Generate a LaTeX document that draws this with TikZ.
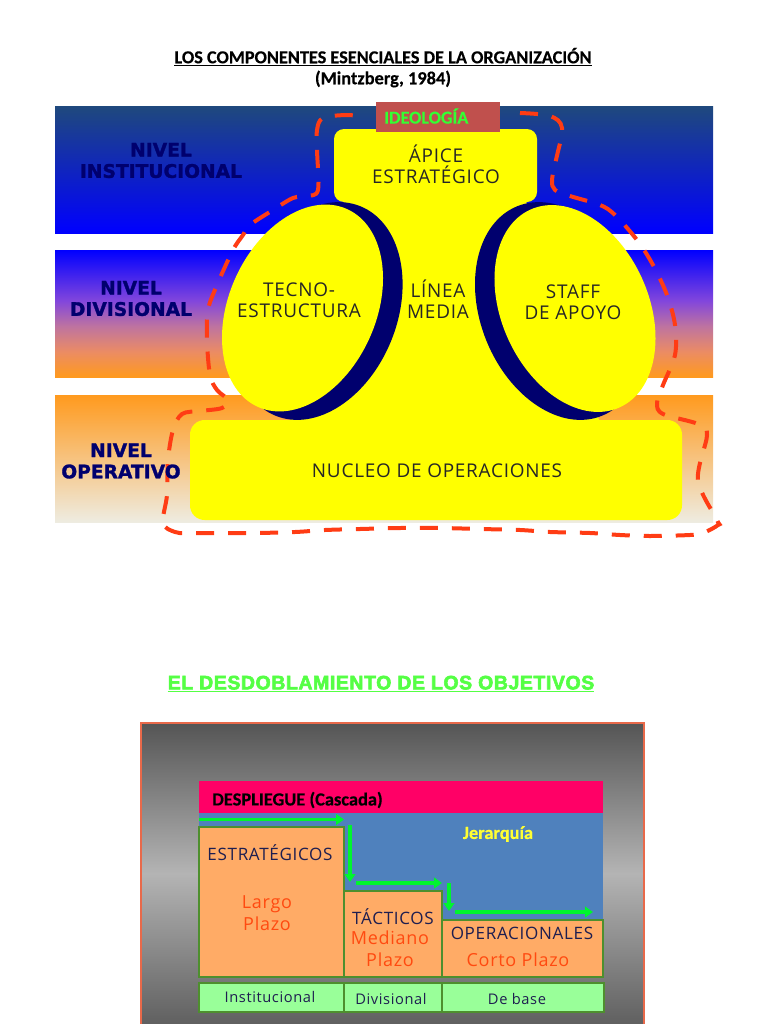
\documentclass[tikz,border=0pt]{standalone}
\usepackage{fontspec}
\usetikzlibrary{shapes.geometric,arrows.meta}
\setmainfont[BoldFeatures={FakeBold=0.4}]{Carlito}
\newfontfamily\lblfont[LetterSpace=4]{Open Sans}
\newfontfamily\nivfont[BoldFeatures={FakeBold=1.5}]{DejaVu Sans}
\newfontfamily\headfont[BoldFeatures={FakeBold=3},LetterSpace=3]{Liberation Sans}
\definecolor{yell}{HTML}{FFFF00}
\definecolor{navy}{HTML}{00006E}
\definecolor{redd}{HTML}{FF3C14}
\definecolor{dblue}{HTML}{1F497D}
\definecolor{pureblue}{HTML}{0000FF}
\definecolor{orng}{HTML}{FF9A1E}
\definecolor{pa}{HTML}{8246DC}
\definecolor{pb}{HTML}{BE73A0}
\definecolor{pc}{HTML}{EB8C64}
\definecolor{cream}{HTML}{EEECE1}
\definecolor{boxor}{HTML}{FFAB66}
\definecolor{boxedge}{HTML}{4E8F2E}
\definecolor{lgreen}{HTML}{99FF99}
\definecolor{arrowg}{HTML}{00F52E}
\definecolor{dtxt}{HTML}{1E1E50}
\definecolor{otxt}{HTML}{FF4A10}
\definecolor{redbox}{HTML}{C0504D}
\definecolor{pinkb}{HTML}{FF0066}
\definecolor{jblue}{HTML}{4F81BD}
\definecolor{headg}{HTML}{55FF44}
\definecolor{ideog}{HTML}{33FF33}
\definecolor{frame}{HTML}{E8694A}
\definecolor{jyel}{HTML}{FFFF33}
\definecolor{gdark}{HTML}{555555}
\definecolor{gmid}{HTML}{B4B4B4}
\definecolor{gbot}{HTML}{606060}
\pgfdeclareverticalshading{divband}{100bp}{color(0bp)=(orng); color(25bp)=(orng); color(35bp)=(pc); color(45bp)=(pb); color(55bp)=(pa); color(75bp)=(pureblue); color(100bp)=(pureblue)}
\tikzset{
  yel/.style={fill=yell,draw=none},
  oval/.style={ellipse,fill=yell,draw=none,inner sep=0,minimum width=110.25pt,minimum height=162.75pt},
  ovalshadow/.style={ellipse,fill=navy,draw=none,inner sep=0,minimum width=118.5pt,minimum height=169.5pt},
  niv/.style={font=\nivfont\bfseries\fontsize{14}{16}\selectfont,text=navy,align=center},
  lbl/.style={font=\lblfont\fontsize{14.2}{15.75}\selectfont,text=black!85,align=center},
  sm/.style={font=\lblfont\fontsize{12.8}{14}\selectfont,text=dtxt,align=center},
  pl/.style={font=\lblfont\fontsize{13.5}{16.5}\selectfont,text=otxt,align=center},
  base/.style={font=\lblfont\fontsize{11}{12}\selectfont,text=dtxt},
  obox/.style={fill=boxor,draw=boxedge,line width=1.2pt,outer sep=0pt},
  gbox/.style={fill=lgreen,draw=boxedge,line width=1.2pt,outer sep=0pt},
  garrow/.style={draw=arrowg,line width=2.4pt,-{Triangle[length=6pt,width=8pt]}},
  reddash/.style={draw=redd,line width=3pt,dash pattern=on 13.5pt off 10.5pt,line cap=butt}
}
\begin{document}
\begin{tikzpicture}[x=0.75pt,y=-0.75pt]
\useasboundingbox (0,0) rectangle (768,1024);
% bands
\shade[top color=dblue,bottom color=pureblue] (55,106) rectangle (713,233);
\shade[shading=divband] (55,250) rectangle (713,377);
\shade[top color=orng,bottom color=cream] (55,395) rectangle (713,522);
% dashed contour
\draw[reddash] plot[smooth,tension=0.55] coordinates {
 (520,113) (550,116) (562,128) (556,160) (552,180) (555,190) (570,196) (600,205) (615,215)
 (637,240) (653,265) (667,295) (675,325) (675,355) (663,385) (657,403) (663,414) (698,424)
 (707,435) (698,480) (717,520) (718,525) (703,533) (690,535) (650,536) (620,535) (590,533) (550,532) (520,530) (480,529) (440,528) (400,528) (360,529) (325,530) (295,532) (253,533) (190,533) (175,532)
 (163,523) (167,495) (168,460) (173,430) (182,414) (200,411) (222,408) (228,400) (217,390)
 (210,375) (207,340) (208,310) (217,285) (233,250) (243,235) (250,225) (273,210) (293,198)
 (307,196) (318,190) (317,150) (317,130) (323,118) (347,115) (363,117)};
% yellow organisation
\fill[yel] (345,198) -- (525,198) -- (600,423) -- (290,423) -- cycle;
\fill[yel,rounded corners=7.5pt] (334,129) rectangle (537,202);
\fill[yel,rounded corners=11pt] (190,420) rectangle (682,520);
\node[ovalshadow,rotate=-22] (lshadow) at (318,311) {};
\node[ovalshadow,rotate=22] (rshadow) at (559.6,311) {};
\node[oval,rotate=-24.3] (loval) at (302.5,308) {};
\node[oval,rotate=24.3] (roval) at (575,308.5) {};
% ideologia
\node[fill=redbox,draw=none,minimum width=93pt,minimum height=22.5pt,inner sep=0] (ideo) at (438,117) {};
\node[font=\fontsize{13.6}{14}\selectfont\bfseries,text=ideog,anchor=west,inner sep=0] (ideot) at (384,116) {IDEOLOGÍA};
% title
\node[font=\fontsize{13.7}{16}\selectfont\bfseries] (t1) at (383,57) {\underline{LOS COMPONENTES ESENCIALES DE LA ORGANIZACIÓN}};
\node[font=\fontsize{13.8}{16}\selectfont\bfseries] (t2) at (383,79) {(Mintzberg, 1984)};
% level labels
\node[niv] (n1) at (161,160.5) {NIVEL\\INSTITUCIONAL};
\node[niv] (n2) at (131,298.5) {NIVEL\\DIVISIONAL};
\node[niv] (n3) at (121,461) {NIVEL\\OPERATIVO};
% component labels
\node[lbl] (apice) at (436,164) {ÁPICE\\ESTRATÉGICO};
\node[lbl] (tecno) at (299,300) {TECNO-\\ESTRUCTURA};
\node[lbl] (linea) at (438,299) {LÍNEA\\MEDIA};
\node[lbl] (staff) at (573,302.5) {STAFF\\DE APOYO};
\node[lbl] (nucleo) at (437,471) {NUCLEO DE OPERACIONES};
% second title
\node[font=\headfont\bfseries\fontsize{14.6}{16}\selectfont,text=headg] (t3) at (381,684) {\underline{EL DESDOBLAMIENTO DE LOS OBJETIVOS}};
% lower panel
\shade[top color=gdark,bottom color=gbot,middle color=gmid] (141,723) rectangle (644,1024);
\draw[frame,line width=1pt] (141,1024) -- (141,723) -- (644,723) -- (644,1024);
\node[fill=pinkb,draw=none,inner sep=0,outer sep=0pt,minimum width=303pt,minimum height=24pt,anchor=north west] (pink) at (199,781) {};
\fill[jblue] (199,813) rectangle (603,977);
\node[obox,anchor=north west,inner sep=0,minimum width=108.75pt,minimum height=112.5pt] (b1) at (199,827) {};
\node[obox,anchor=north west,inner sep=0,minimum width=73.5pt,minimum height=64.5pt] (b2) at (344,891) {};
\node[obox,anchor=north west,inner sep=0,minimum width=120.75pt,minimum height=42.75pt] (b3) at (442,920) {};
\node[gbox,anchor=north west,inner sep=0,minimum width=108.75pt,minimum height=21.75pt] (g1) at (199,983) {};
\node[gbox,anchor=north west,inner sep=0,minimum width=73.5pt,minimum height=21.75pt] (g2) at (344,983) {};
\node[gbox,anchor=north west,inner sep=0,minimum width=121.5pt,minimum height=21.75pt] (g3) at (442,983) {};
\coordinate (a1s) at (199,819.5); \coordinate (a1e) at (344,819.5);
\coordinate (a2s) at (350,825); \coordinate (a2e) at (350,882);
\coordinate (a3s) at (356,883); \coordinate (a3e) at (442,883);
\coordinate (a4s) at (449,883); \coordinate (a4e) at (449,911);
\coordinate (a5s) at (455,912); \coordinate (a5e) at (593,912);
\draw[garrow] (a1s) -- (a1e);
\draw[garrow] (a2s) -- (a2e);
\draw[garrow] (a3s) -- (a3e);
\draw[garrow] (a4s) -- (a4e);
\draw[garrow] (a5s) -- (a5e);
\node[font=\fontsize{13.8}{16}\selectfont\bfseries,anchor=west,inner sep=0] (desp) at (212,800) {DESPLIEGUE (Cascada)};
\node[font=\fontsize{13.8}{14}\selectfont\bfseries,text=jyel] (jer) at (498,834) {Jerarquía};
\node[sm] (est) at (270,853) {ESTRATÉGICOS};
\node[pl] (lar) at (267,913.5) {Largo\\Plazo};
\node[sm] (tac) at (393,917) {TÁCTICOS};
\node[pl] (med) at (390,949) {Mediano\\Plazo};
\node[sm] (ope) at (522,933) {OPERACIONALES};
\node[pl] (cor) at (518,960) {Corto Plazo};
\node[base] (i1) at (270,997) {Institucional};
\node[base] (i2) at (391,999) {Divisional};
\node[base] (i3) at (517,999) {De base};
\end{tikzpicture}
\end{document}
